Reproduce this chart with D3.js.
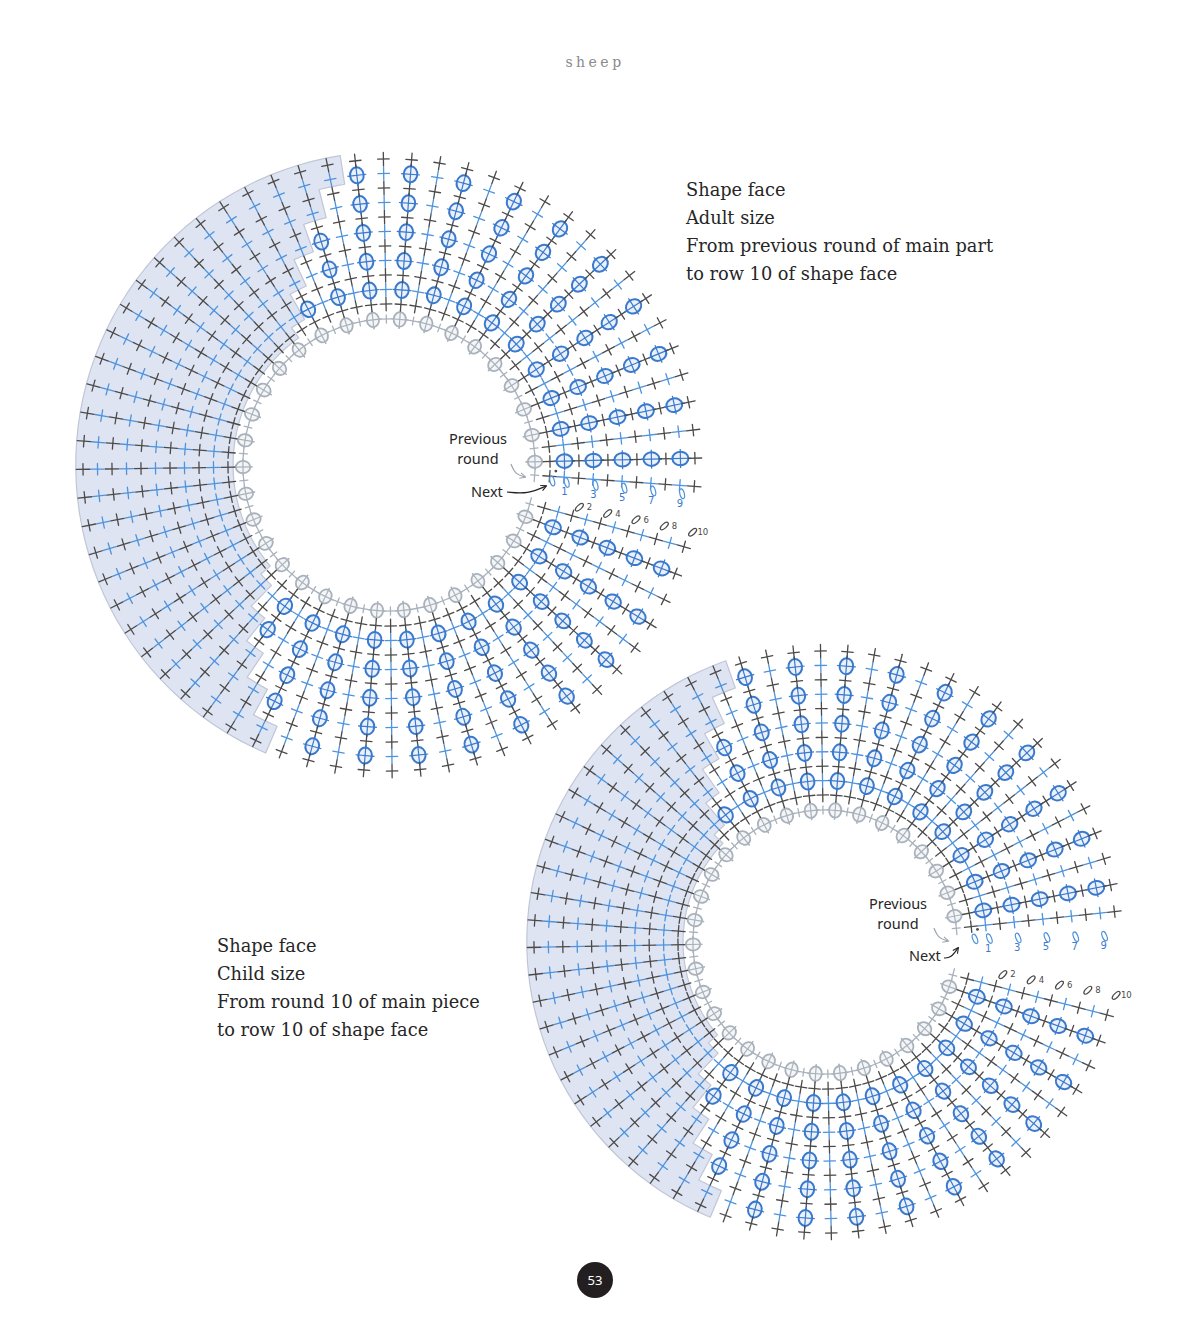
<!DOCTYPE html>
<html>
<head>
<meta charset="utf-8">
<script src="https://cdn.jsdelivr.net/npm/d3@7"></script>
<style>
  body { margin: 0; background: #fff; }
</style>
</head>
<body>
<svg id="page" width="1190" height="1332"></svg>
<script>
// ---- data ----
const rowIds = [0, 1, 2, 3, 4, 5, 6, 7, 8, 9, 10];
const rowColors = ["dark", "blue", "dark", "blue", "dark", "blue", "dark", "blue", "dark", "blue", "dark"];

// spoke pattern going clockwise from just below the "Next" gap: P = plain (crosses), B = bobbles
const adultSpokeTypes = ("PBPBPBPBPB" + "PBPBPBPBPB" + "PBPBPBPBPB" + "PBPBPBPBPB" +
  "PBPBPBPBPB" + "PBPBPBPBPB" + "PBPBPBP").split("");
const childSpokeTypes = ("PBPBPBPBPB" + "PBPBPBPBPB" + "PBPBPBPBPB" + "PBPBPBPBPB" +
  "PBPBPBPBPB" + "PBPBPBPBPB" + "PBPBP").split("");

// first row of each spoke that lies in the shaded (back) part, 11 = none
const adultShadeFrom = [
  11, 11, 11, 11, 11, 11, 11, 11, 11, 11, 11, 11, 11, 11, 11, 11, 11, 11, 11,
  9, 7, 5, 3, 1,
  0, 0, 0, 0, 0, 0, 0, 0, 0, 0, 0, 0, 0, 0, 0, 0, 0, 0,
  1, 3, 5, 7, 9,
  11, 11, 11, 11, 11, 11, 11, 11, 11, 11, 11, 11, 11, 11, 11, 11, 11, 11, 11, 11
];
const childShadeFrom = [
  11, 11, 11, 11, 11, 11, 11, 11, 11, 11, 11, 11, 11, 11, 11, 11, 11, 11, 11,
  9, 7, 5, 3, 1,
  0, 0, 0, 0, 0, 0, 0, 0, 0, 0, 0, 0, 0, 0, 0, 0,
  1, 3, 5, 7, 9,
  11, 11, 11, 11, 11, 11, 11, 11, 11, 11, 11, 11, 11, 11, 11, 11, 11, 11, 11, 11
];

// turning chains in the gap
const oddChainRows = [0, 1, 3, 5, 7, 9];
const oddChainLabels = ["", "1", "3", "5", "7", "9"];
const evenChainRows = [2, 4, 6, 8, 10];
const evenChainLabels = ["2", "4", "6", "8", "10"];

const adultCaption = ["Shape face", "Adult size", "From previous round of main part", "to row 10 of shape face"];
const childCaption = ["Shape face", "Child size", "From round 10 of main piece", "to row 10 of shape face"];
const prevLabel = ["Previous", "round"];
const nextLabel = "Next";
const pageTitle = "sheep";
const pageNumber = "53";

// ---- layout ----
const adultLayout = {
  cx: 389, cy: 465, ringR: 146, r0: 161, r10: 306, a0: 15.5, a1: 364,
  oddRay: 5.6, evenRay: 12.5,
  capX: 686, capY: 196, prevX: 478, prevY: 444, nextX: 471, nextY: 497,
  grayArrow: [[511, 464], [515, 474], [525, 477]],
  blackArrow: [[507, 492], [528, 494], [546, 486]]
};
const childLayout = {
  cx: 825, cy: 942, ringR: 132, r0: 147, r10: 291, a0: 14.5, a1: 354,
  oddRay: -1.2, evenRay: 10.4,
  capX: 217, capY: 952, prevX: 898, prevY: 909, nextX: 909, nextY: 961,
  grayArrow: [[934, 928], [938, 938], [948, 941]],
  blackArrow: [[944, 958], [951, 958], [958, 948]]
};

const colors = {
  dark: "#4a4a4a", blue: "#4f93dc", bobble: "#3a79cc", bobbleFill: "#eaf1fb", ring: "#a9b2bc",
  shade: "#dfe4f2", shadeEdge: "#c0c6d6", text: "#262626"
};

const svg = d3.select("#page");

svg.append("defs").append("marker")
  .attr("id", "head")
  .attr("viewBox", "0 0 10 10")
  .attr("refX", 8).attr("refY", 5)
  .attr("markerWidth", 6).attr("markerHeight", 6)
  .attr("orient", "auto")
  .append("path")
  .attr("d", "M1,1 L9,5 L1,9")
  .attr("fill", "none")
  .attr("stroke", "context-stroke")
  .attr("stroke-width", 1.5);

function polar(L, a, r) {
  const t = a * Math.PI / 180;
  return [L.cx + r * Math.cos(t), L.cy + r * Math.sin(t)];
}

function drawCross(sel, color, radLen, tanLen, width) {
  sel.append("line").attr("x1", -radLen / 2).attr("x2", radLen / 2).attr("y1", 0).attr("y2", 0)
    .attr("stroke", color).attr("stroke-width", width).attr("stroke-linecap", "round");
  sel.append("line").attr("x1", 0).attr("x2", 0).attr("y1", -tanLen / 2).attr("y2", tanLen / 2)
    .attr("stroke", color).attr("stroke-width", width).attr("stroke-linecap", "round");
}

function drawBobble(sel, color, fill, scale) {
  sel.append("line").attr("x1", -10.5 * scale).attr("x2", 10.5 * scale).attr("y1", 0).attr("y2", 0)
    .attr("stroke", color).attr("stroke-width", 1.2);
  sel.append("ellipse").attr("rx", 8 * scale).attr("ry", 6.8 * scale)
    .attr("fill", fill)
    .attr("stroke", color).attr("stroke-width", 2 * scale);
  sel.append("line").attr("x1", 0).attr("x2", 0).attr("y1", -9.5 * scale).attr("y2", 9.5 * scale)
    .attr("stroke", color).attr("stroke-width", 1.2);
  sel.append("line").attr("x1", -10.5 * scale).attr("x2", 10.5 * scale).attr("y1", 0).attr("y2", 0)
    .attr("stroke", color).attr("stroke-width", 1.2);
}

function drawChart(L, spokeTypes, shadeFrom, caption) {
  const n = spokeTypes.length;
  const angle = d3.scaleLinear().domain([0, n - 1]).range([L.a0, L.a1]);
  const radius = d3.scaleLinear().domain([0, 10]).range([L.r0, L.r10]);
  const half = (angle(1) - angle(0)) / 2;
  const step = radius(1) - radius(0);
  const g = svg.append("g");

  // shaded back part
  const shaded = d3.range(n).filter(i => shadeFrom[i] < 11);
  const rOut = radius(10) + step * 0.5;
  const pts = [];
  shaded.forEach(i => {
    pts.push([angle(i) - half, rOut], [angle(i), rOut], [angle(i) + half, rOut]);
  });
  shaded.slice().reverse().forEach(i => {
    const rin = shadeFrom[i] === 0 ? radius(0) - step * 0.35 : radius(shadeFrom[i]) - step * 0.5;
    pts.push([angle(i) + half, rin], [angle(i), rin], [angle(i) - half, rin]);
  });
  const shadeLine = d3.line()
    .x(d => polar(L, d[0], d[1])[0])
    .y(d => polar(L, d[0], d[1])[1])
    .curve(d3.curveLinearClosed);
  g.append("path")
    .attr("d", shadeLine(pts))
    .attr("fill", colors.shade)
    .attr("stroke", colors.shadeEdge)
    .attr("stroke-width", 1.2)
    .attr("stroke-linejoin", "round");

  // previous round (inner ring)
  const ring = d3.range(n).map(i => ({ a: angle(i), type: spokeTypes[i] }));
  g.selectAll("g.ring").data(ring).join("g")
    .attr("class", "ring")
    .attr("transform", d => {
      const p = polar(L, d.a, L.ringR);
      return `translate(${p[0]},${p[1]}) rotate(${d.a})`;
    })
    .each(function (d) {
      const s = d3.select(this);
      if (d.type === "B") drawBobble(s, colors.ring, "#f4f5f7", 0.9);
      else drawCross(s, colors.ring, 8, 13, 1.3);
    });

  // stitches on each spoke
  const stitches = [];
  d3.range(n).forEach(i => {
    rowIds.forEach(k => {
      const inFace = k < shadeFrom[i];
      const type = inFace ? spokeTypes[i] : "P";
      const col = rowColors[k];
      stitches.push({ a: angle(i), r: radius(k), kind: (type === "B" && col === "blue") ? "bobble" : "cross", col });
    });
  });
  g.selectAll("g.st").data(stitches).join("g")
    .attr("class", "st")
    .attr("transform", d => {
      const p = polar(L, d.a, d.r);
      return `translate(${p[0]},${p[1]}) rotate(${d.a})`;
    })
    .each(function (d) {
      const s = d3.select(this);
      if (d.kind === "bobble") drawBobble(s, colors.bobble, colors.bobbleFill, 1);
      else drawCross(s, d.col === "blue" ? colors.blue : colors.dark, 13.5, 11.5, 1.3);
    });

  // turning chains in the gap
  const chains = oddChainRows.map((k, j) => ({ a: L.oddRay, r: radius(k) + 3, label: oddChainLabels[j], odd: true }))
    .concat(evenChainRows.map((k, j) => ({ a: L.evenRay, r: radius(k) + 5, label: evenChainLabels[j], odd: false })));
  g.selectAll("ellipse.chain").data(chains).join("ellipse")
    .attr("class", "chain")
    .attr("rx", 5).attr("ry", 2.2)
    .attr("fill", "none")
    .attr("stroke", d => d.odd ? colors.blue : colors.dark)
    .attr("stroke-width", 1.2)
    .attr("transform", d => {
      const p = polar(L, d.a, d.r);
      return `translate(${p[0]},${p[1]}) rotate(${d.a + (d.odd ? 70 : -55)})`;
    });
  const labelPos = d => d.odd
    ? polar(L, d.a + 9.5 / d.r * 180 / Math.PI, d.r - 1)
    : polar(L, d.a - 2 / d.r * 180 / Math.PI, d.r + 10);
  g.selectAll("text.chain").data(chains.filter(d => d.label)).join("text")
    .attr("class", "chain")
    .attr("x", d => labelPos(d)[0])
    .attr("y", d => labelPos(d)[1])
    .attr("text-anchor", "middle")
    .attr("dominant-baseline", "central")
    .attr("font-family", "DejaVu Sans, sans-serif")
    .attr("font-size", d => d.odd ? 10 : 8.5)
    .attr("fill", d => d.odd ? colors.bobble : colors.dark)
    .text(d => d.label);
  const dot = polar(L, L.oddRay - 3.5, radius(0) + 6);
  g.append("circle").attr("cx", dot[0]).attr("cy", dot[1]).attr("r", 1.4).attr("fill", colors.dark);

  // labels and arrows
  g.selectAll("text.prev").data(prevLabel).join("text")
    .attr("class", "prev")
    .attr("x", L.prevX).attr("y", (d, j) => L.prevY + j * 20)
    .attr("text-anchor", "middle")
    .attr("font-family", "Noto Sans, sans-serif")
    .attr("font-size", 14.5)
    .attr("fill", colors.text)
    .text(d => d);
  g.append("text")
    .attr("x", L.nextX).attr("y", L.nextY)
    .attr("font-family", "Noto Sans, sans-serif")
    .attr("font-size", 14.5)
    .attr("fill", colors.text)
    .text(nextLabel);
  const curve = d3.line().curve(d3.curveBasis);
  g.append("path").attr("d", curve(L.grayArrow))
    .attr("fill", "none").attr("stroke", "#9aa3ad").attr("stroke-width", 1.2)
    .attr("marker-end", "url(#head)");
  g.append("path").attr("d", curve(L.blackArrow))
    .attr("fill", "none").attr("stroke", "#222").attr("stroke-width", 1.2)
    .attr("marker-end", "url(#head)");

  // caption
  svg.selectAll(null).data(caption).join("text")
    .attr("x", L.capX).attr("y", (d, j) => L.capY + j * 28)
    .attr("font-family", "DejaVu Serif, serif")
    .attr("font-size", 17.8)
    .attr("fill", colors.text)
    .text(d => d);
}

drawChart(adultLayout, adultSpokeTypes, adultShadeFrom, adultCaption);
drawChart(childLayout, childSpokeTypes, childShadeFrom, childCaption);

// page header and number
svg.append("text")
  .attr("x", 595).attr("y", 67)
  .attr("text-anchor", "middle")
  .attr("font-family", "DejaVu Serif, serif")
  .attr("font-size", 14)
  .attr("letter-spacing", 3.5)
  .attr("fill", "#8a8a8a")
  .text(pageTitle);
svg.append("circle").attr("cx", 595).attr("cy", 1280).attr("r", 18).attr("fill", "#231f20");
svg.append("text")
  .attr("x", 595).attr("y", 1285)
  .attr("text-anchor", "middle")
  .attr("font-family", "Noto Sans, sans-serif")
  .attr("font-size", 13)
  .attr("fill", "#fff")
  .text(pageNumber);
</script>
</body>
</html>
